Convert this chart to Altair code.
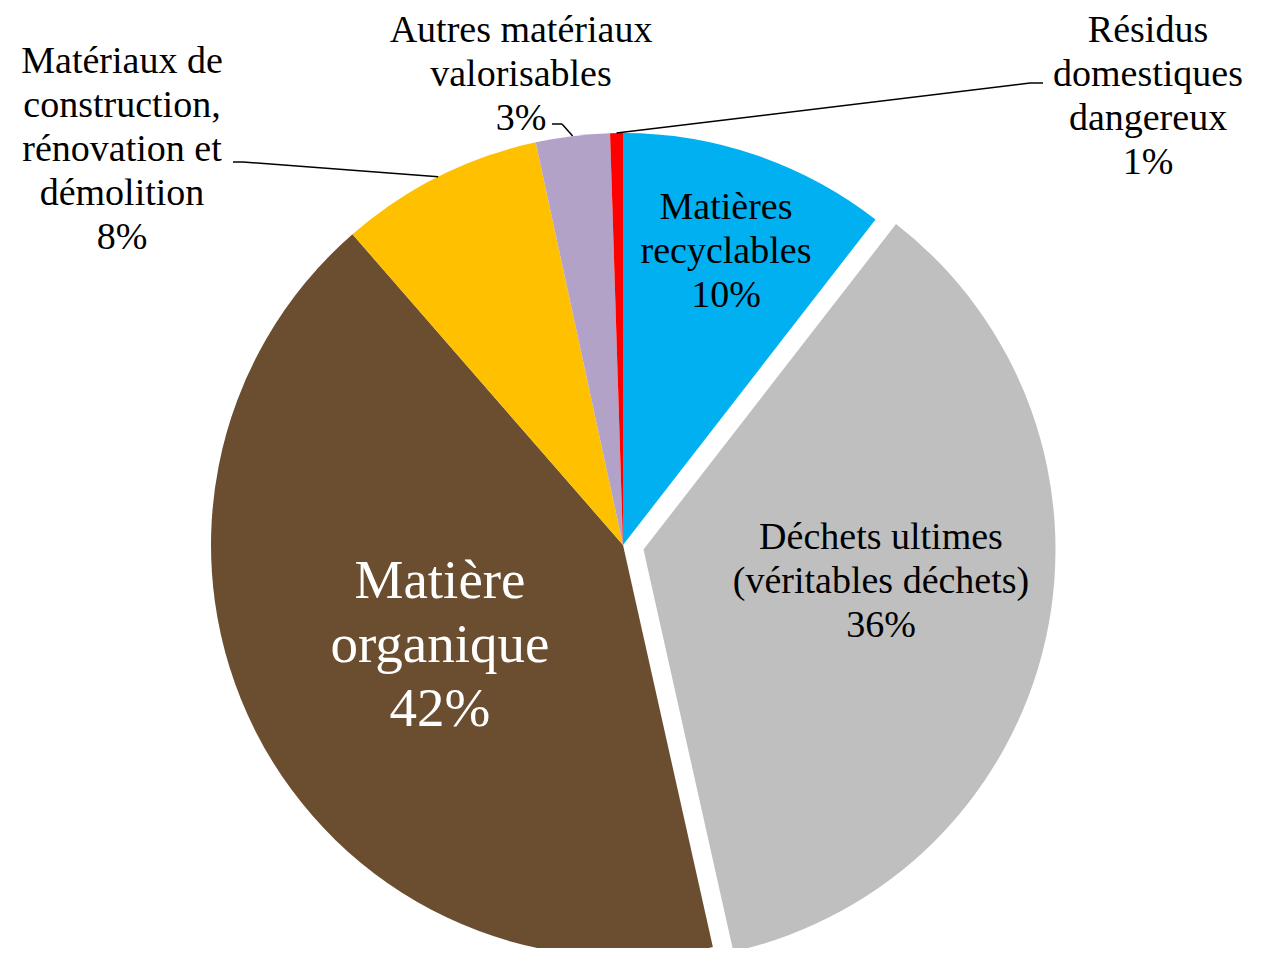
import altair as alt
import pandas as pd

# ---- data -------------------------------------------------------------
categories = [
    "Matières recyclables",
    "Déchets ultimes (véritables déchets)",
    "Matière organique",
    "Matériaux de construction, rénovation et démolition",
    "Autres matériaux valorisables",
    "Résidus domestiques dangereux",
]
values = [10.5, 36.0, 42.1, 8.0, 2.9, 0.5]
pct_labels = ["10%", "36%", "42%", "8%", "3%", "1%"]
label_text = [
    "Matières\nrecyclables",
    "Déchets ultimes\n(véritables déchets)",
    "Matière\norganique",
    "Matériaux de\nconstruction,\nrénovation et\ndémolition",
    "Autres matériaux\nvalorisables",
    "Résidus\ndomestiques\ndangereux",
]
exploded = [0, 1, 0, 0, 0, 0]
colors = ["#00B0F0", "#BFBFBF", "#6B4D30", "#FFC000", "#B3A2C7", "#FF0000"]

# ---- layout (pixels) ---------------------------------------------------
W, H = 1245, 940
CX, CY, R = 615, 537, 412
EXPLODE = 21
# centre of the first line of each label block
label_x = [718, 873, 432, 114, 513, 1140]
label_y = [200, 530, 573, 54, 23, 23]
elbow_x = [None, None, None, 235, 554, 1022]
elbow_y = [None, None, None, 154, 116, 75]
end_x = [None, None, None, 225, 544, 1035]

FONT = "Liberation Serif"

df = pd.DataFrame({
    "cat": categories,
    "value": values,
    "order": list(range(len(categories))),
    "label": [t + "\n" + p for t, p in zip(label_text, pct_labels)],
    "explode": exploded,
    "lx": label_x,
    "ly": label_y,
    "elx": elbow_x,
    "ely": elbow_y,
    "enx": end_x,
})

base = (
    alt.Chart(df)
    .transform_joinaggregate(total="sum(value)")
    .transform_window(cum="sum(value)", sort=[alt.SortField("order")], frame=[None, 0])
    .transform_calculate(
        s0="(datum.cum - datum.value) / datum.total",
        s1="datum.cum / datum.total",
        ang="(datum.cum - datum.value / 2) / datum.total * 2 * PI",
    )
    .transform_calculate(
        cx=f"{CX} + datum.explode * {EXPLODE} * sin(datum.ang)",
        cy=f"{CY} - datum.explode * {EXPLODE} * cos(datum.ang)",
        edx=f"{CX} + {R} * sin(datum.ang)",
        edy=f"{CY} - {R} * cos(datum.ang)",
    )
)

theta_scale = alt.Scale(domain=[0, 1], range=[0, 6.283185307179586])

arcs = base.mark_arc(radius=R, stroke=None).encode(
    theta=alt.Theta("s0:Q", scale=theta_scale),
    theta2="s1:Q",
    x=alt.X("cx:Q", scale=None, axis=None),
    y=alt.Y("cy:Q", scale=None, axis=None),
    color=alt.Color("cat:N", scale=alt.Scale(domain=categories, range=colors), legend=None),
)

leaders = base.transform_filter("isValid(datum.elx)")
seg1 = leaders.mark_rule(color="black", strokeWidth=1.5).encode(
    x=alt.X("edx:Q", scale=None, axis=None),
    y=alt.Y("edy:Q", scale=None, axis=None),
    x2="elx:Q",
    y2="ely:Q",
)
seg2 = leaders.mark_rule(color="black", strokeWidth=1.5).encode(
    x=alt.X("elx:Q", scale=None, axis=None),
    y=alt.Y("ely:Q", scale=None, axis=None),
    x2="enx:Q",
    y2="ely:Q",
)

labels = base.transform_filter("datum.order != 2").mark_text(
    font=FONT, fontSize=38, lineHeight=44, lineBreak="\n",
    align="center", baseline="middle", color="black",
).encode(
    x=alt.X("lx:Q", scale=None, axis=None),
    y=alt.Y("ly:Q", scale=None, axis=None),
    text="label:N",
)

big_label = base.transform_filter("datum.order == 2").mark_text(
    font=FONT, fontSize=55, lineHeight=64, lineBreak="\n",
    align="center", baseline="middle", color="white",
).encode(
    x=alt.X("lx:Q", scale=None, axis=None),
    y=alt.Y("ly:Q", scale=None, axis=None),
    text="label:N",
)

chart = (
    alt.layer(arcs, seg1, seg2, labels, big_label)
    .properties(width=W, height=H, padding=0, autosize=alt.AutoSizeParams(type="none"), background="white")
    .configure_view(stroke=None)
)

chart.save("out.html", embed_options={"renderer": "svg", "actions": False})
